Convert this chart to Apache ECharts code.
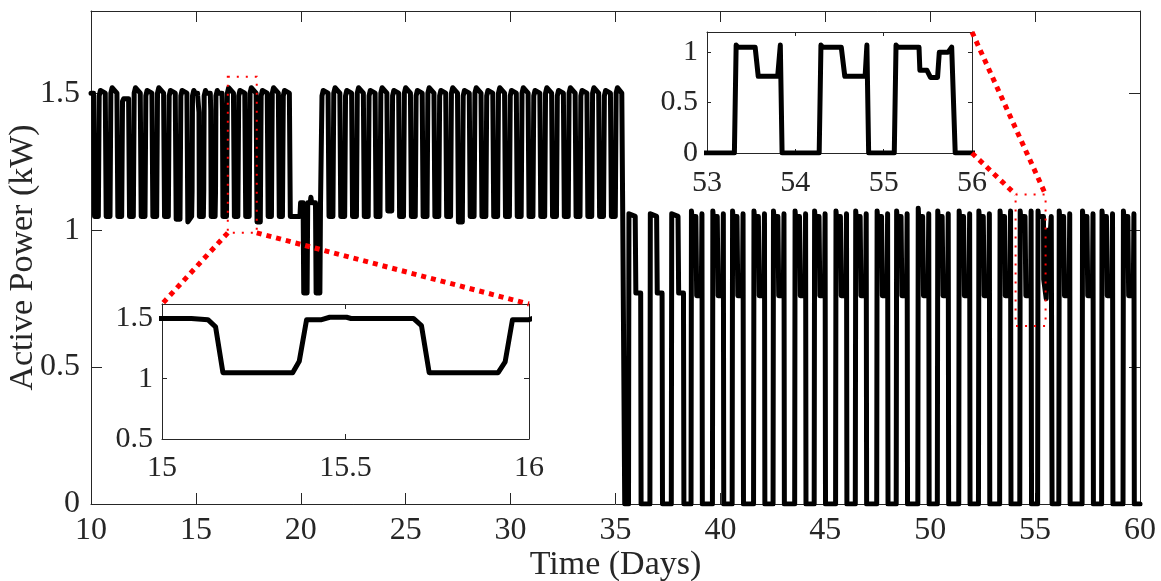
<!DOCTYPE html>
<html>
<head>
<meta charset="utf-8">
<script src="https://cdn.jsdelivr.net/npm/echarts@6/dist/echarts.min.js"></script>
<style>
  html, body { margin: 0; padding: 0; background: #fff; }
  #chart { width: 1161px; height: 581px; }
</style>
</head>
<body>
<div id="chart"></div>
<script>
// ---- Active power samples, [day, kW] ----
// Days 10–20: compressor cycling between ~1.05 and ~1.5 kW
const powerStage1 = [
  [10.000,1.50],[10.124,1.50],[10.169,1.05],
  [10.350,1.05],[10.390,1.49],[10.450,1.51],[10.680,1.50],[10.724,1.05],
  [10.906,1.05],[10.946,1.50],[11.006,1.52],[11.236,1.50],[11.280,1.05],
  [11.462,1.05],[11.502,1.47],[11.562,1.48],[11.792,1.48],[11.836,1.05],
  [12.018,1.05],[12.058,1.50],[12.118,1.52],[12.348,1.50],[12.392,1.05],
  [12.574,1.05],[12.614,1.49],[12.674,1.51],[12.904,1.50],[12.948,1.05],
  [13.130,1.05],[13.170,1.50],[13.230,1.52],[13.460,1.50],[13.504,1.05],
  [13.686,1.05],[13.726,1.49],[13.786,1.51],[14.016,1.50],[14.060,1.04],
  [14.242,1.04],[14.282,1.49],[14.342,1.51],[14.572,1.50],[14.616,1.03],
  [14.798,1.05],[14.818,1.14],[14.838,1.49],[14.880,1.49],[14.900,1.51],[14.950,1.51],[14.970,1.50],
  [15.080,1.50],[15.085,1.49],[15.125,1.49],[15.146,1.43],[15.166,1.05],
  [15.356,1.05],[15.374,1.145],[15.394,1.49],[15.435,1.49],[15.457,1.51],[15.503,1.51],[15.515,1.50],
  [15.685,1.50],[15.707,1.44],[15.728,1.05],
  [15.916,1.05],[15.935,1.14],[15.955,1.49],[16.000,1.49],[16.020,1.51],[16.060,1.51],[16.080,1.50],
  [16.245,1.50],[16.265,1.44],[16.289,1.05],
  [16.460,1.05],[16.500,1.50],[16.560,1.52],[16.790,1.50],[16.834,1.05],
  [17.000,1.05],[17.040,1.49],[17.100,1.51],[17.330,1.50],[17.374,1.05],
  [17.540,1.05],[17.580,1.50],[17.640,1.52],[17.870,1.50],[17.914,1.03],
  [18.070,1.03],[18.110,1.49],[18.170,1.51],[18.400,1.50],[18.444,1.05],
  [18.600,1.05],[18.640,1.50],[18.700,1.52],[18.930,1.50],[18.974,1.05],
  [19.125,1.05],[19.165,1.49],[19.225,1.51],[19.455,1.50],[19.500,1.05]
];

// Days 20–21: reduced output with two dips
const powerDip = [
  [19.960,1.05],[19.990,1.10],[20.110,1.10],[20.140,0.77],[20.300,0.77],[20.330,1.10],
  [20.450,1.10],[20.480,1.12],[20.520,1.10],[20.700,1.10],[20.730,0.77],[20.910,0.77],
  [20.940,1.10],[20.970,1.10]
];

// Days 21–35.4: cycling resumes until the mode change
const powerStage2 = [
  [21.010,1.49],[21.070,1.51],[21.300,1.50],[21.345,1.05],
  [21.531,1.05],[21.571,1.50],[21.631,1.52],[21.861,1.50],[21.905,1.05],
  [22.092,1.05],[22.132,1.49],[22.192,1.51],[22.422,1.50],[22.466,1.05],
  [22.652,1.05],[22.692,1.50],[22.752,1.52],[22.982,1.50],[23.026,1.05],
  [23.213,1.05],[23.253,1.49],[23.313,1.51],[23.543,1.50],[23.587,1.05],
  [23.774,1.05],[23.814,1.50],[23.874,1.52],[24.104,1.50],[24.148,1.07],
  [24.335,1.07],[24.375,1.49],[24.435,1.51],[24.665,1.50],[24.709,1.05],
  [24.896,1.05],[24.936,1.50],[24.996,1.52],[25.226,1.50],[25.270,1.05],
  [25.456,1.05],[25.496,1.49],[25.556,1.51],[25.786,1.50],[25.830,1.05],
  [26.017,1.05],[26.057,1.50],[26.117,1.52],[26.347,1.50],[26.391,1.05],
  [26.578,1.05],[26.618,1.49],[26.678,1.51],[26.908,1.50],[26.952,1.05],
  [27.139,1.05],[27.179,1.50],[27.239,1.52],[27.469,1.50],[27.513,1.03],
  [27.700,1.03],[27.740,1.49],[27.800,1.51],[28.030,1.50],[28.074,1.05],
  [28.260,1.05],[28.300,1.50],[28.360,1.52],[28.590,1.50],[28.634,1.05],
  [28.821,1.05],[28.861,1.49],[28.921,1.51],[29.151,1.50],[29.195,1.05],
  [29.382,1.05],[29.422,1.50],[29.482,1.52],[29.712,1.50],[29.756,1.05],
  [29.943,1.05],[29.983,1.49],[30.043,1.51],[30.273,1.50],[30.317,1.05],
  [30.504,1.05],[30.544,1.50],[30.604,1.52],[30.834,1.50],[30.878,1.05],
  [31.064,1.05],[31.104,1.49],[31.164,1.51],[31.394,1.50],[31.438,1.05],
  [31.625,1.05],[31.665,1.50],[31.725,1.52],[31.955,1.50],[31.999,1.05],
  [32.186,1.05],[32.226,1.49],[32.286,1.51],[32.516,1.50],[32.560,1.05],
  [32.747,1.05],[32.787,1.50],[32.847,1.52],[33.077,1.50],[33.121,1.05],
  [33.308,1.05],[33.348,1.49],[33.408,1.51],[33.638,1.50],[33.682,1.05],
  [33.868,1.05],[33.908,1.50],[33.968,1.52],[34.198,1.50],[34.242,1.05],
  [34.429,1.05],[34.469,1.49],[34.529,1.51],[34.759,1.50],[34.803,1.05],
  [34.990,1.05],[35.030,1.50],[35.090,1.52],[35.300,1.50],[35.345,1.05],
  [35.400,1.05],[35.440,0.00]
];

// Days 35.4–60: on/off cycling between 0 and ~1.05 kW with a 0.76 kW step
const powerStage3 = [
  [35.62,0],[35.64,1.06],[35.94,1.05],[35.97,0.77],[36.20,0.77],[36.22,0],
  [36.64,0],[36.66,1.06],[36.96,1.05],[36.99,0.77],[37.22,0.77],[37.24,0],
  [37.66,0],[37.68,1.06],[37.98,1.05],[38.01,0.77],[38.24,0.77],[38.26,0],
  [38.60,0],[38.62,1.07],[38.64,1.05],[38.83,1.05],[38.87,0.76],[39.09,0.76],[39.12,1.06],[39.14,0],
  [39.62,0],[39.64,1.07],[39.66,1.05],[39.85,1.05],[39.89,0.76],[40.11,0.76],[40.14,1.06],[40.16,0],
  [40.56,0],[40.58,1.07],[40.60,1.05],[40.79,1.05],[40.83,0.76],[41.05,0.76],[41.08,1.06],[41.10,0],
  [41.58,0],[41.60,1.07],[41.62,1.05],[41.81,1.05],[41.85,0.76],[42.07,0.76],[42.10,1.06],[42.12,0],
  [42.51,0],[42.53,1.07],[42.55,1.05],[42.74,1.05],[42.78,0.76],[43.00,0.76],[43.03,1.06],[43.05,0],
  [43.54,0],[43.56,1.07],[43.58,1.05],[43.77,1.05],[43.81,0.76],[44.03,0.76],[44.06,1.06],[44.08,0],
  [44.47,0],[44.49,1.07],[44.51,1.05],[44.70,1.05],[44.74,0.76],[44.96,0.76],[44.99,1.06],[45.01,0],
  [45.49,0],[45.51,1.07],[45.53,1.05],[45.72,1.05],[45.76,0.76],[45.98,0.76],[46.01,1.06],[46.03,0],
  [46.43,0],[46.45,1.07],[46.47,1.05],[46.66,1.05],[46.70,0.76],[46.92,0.76],[46.95,1.06],[46.97,0],
  [47.45,0],[47.47,1.07],[47.49,1.05],[47.68,1.05],[47.72,0.76],[47.94,0.76],[47.97,1.06],[47.99,0],
  [48.38,0],[48.40,1.07],[48.42,1.05],[48.61,1.05],[48.65,0.76],[48.87,0.76],[48.90,1.06],[48.92,0],
  [49.41,0],[49.43,1.08],[49.45,1.05],[49.64,1.05],[49.68,0.76],[49.90,0.76],[49.93,1.06],[49.95,0],
  [50.34,0],[50.36,1.07],[50.38,1.05],[50.57,1.05],[50.61,0.76],[50.83,0.76],[50.86,1.06],[50.88,0],
  [51.36,0],[51.38,1.07],[51.40,1.05],[51.59,1.05],[51.63,0.76],[51.85,0.76],[51.88,1.06],[51.90,0],
  [52.30,0],[52.32,1.07],[52.34,1.05],[52.53,1.05],[52.57,0.76],[52.79,0.76],[52.82,1.06],[52.84,0],
  [53.31,0],[53.33,1.07],[53.35,1.05],[53.545,1.05],[53.58,0.76],[53.80,0.76],[53.83,1.07],[53.85,0],
  [54.27,0],[54.29,1.07],[54.31,1.05],[54.52,1.05],[54.56,0.76],[54.79,0.76],[54.81,1.07],[54.83,0],
  [55.12,0],[55.14,1.07],[55.16,1.05],[55.40,1.05],[55.41,0.82],[55.49,0.82],[55.53,0.75],[55.61,0.75],
  [55.63,1.00],[55.73,1.00],[55.77,1.05],[55.79,1.05],[55.81,0],
  [56.13,0],[56.15,1.07],[56.17,1.05],[56.36,1.05],[56.40,0.76],[56.62,0.76],[56.65,1.06],[56.67,0],
  [57.24,0],[57.26,1.07],[57.28,1.05],[57.47,1.05],[57.51,0.76],[57.73,0.76],[57.76,1.06],[57.78,0],
  [58.17,0],[58.19,1.07],[58.21,1.05],[58.40,1.05],[58.44,0.76],[58.66,0.76],[58.69,1.06],[58.71,0],
  [59.19,0],[59.21,1.07],[59.23,1.05],[59.42,1.05],[59.46,0.76],[59.68,0.76],[59.71,1.06],[59.73,0],
  [60.00,0]
];

// ---- Tick values ----
const mainXTicks = [10, 15, 20, 25, 30, 35, 40, 45, 50, 55, 60];
const mainYTicks = [0, 0.5, 1, 1.5];
const insetAXTicks = [15, 15.5, 16];
const insetAYTicks = [0.5, 1, 1.5];
const insetBXTicks = [53, 54, 55, 56];
const insetBYTicks = [0, 0.5, 1];

// ---- Magnified windows on the main axes: [xFrom, xTo, yFrom, yTo] ----
const windowA = [16.52, 17.90, 0.99, 1.56];
const windowB = [54.07, 55.50, 0.65, 1.13];

const power = powerStage1.concat(powerDip, powerStage2, powerStage3);

const FONT = '"Liberation Serif", "Times New Roman", serif';
const AXIS_COLOR = '#262626';

function boxAxes(gridIndex, xRange, yRange, xTicks, yTicks, tickLen, fontSize, xMargin, yMargin, z, names) {
  const lineStyle = { color: AXIS_COLOR, width: 1 };
  const label = (values, margin) => ({
    show: true, customValues: values, fontFamily: FONT, fontSize: fontSize,
    color: AXIS_COLOR, margin: margin
  });
  const tick = (values) => ({
    show: true, inside: true, length: tickLen, customValues: values, lineStyle: lineStyle
  });
  const common = {
    type: 'value', gridIndex: gridIndex, z: z,
    axisLine: { show: true, onZero: false, lineStyle: lineStyle },
    splitLine: { show: false }
  };
  const xs = [
    Object.assign({}, common, { position: 'bottom', min: xRange[0], max: xRange[1],
      axisTick: tick(xTicks), axisLabel: label(xTicks, xMargin) }),
    Object.assign({}, common, { position: 'top', min: xRange[0], max: xRange[1],
      axisTick: tick(xTicks), axisLabel: { show: false } })
  ];
  const ys = [
    Object.assign({}, common, { position: 'left', min: yRange[0], max: yRange[1],
      axisTick: tick(yTicks), axisLabel: label(yTicks, yMargin) }),
    Object.assign({}, common, { position: 'right', min: yRange[0], max: yRange[1],
      axisTick: tick(yTicks), axisLabel: { show: false } })
  ];
  if (names) {
    const nameStyle = { fontFamily: FONT, fontSize: 34, color: AXIS_COLOR };
    Object.assign(xs[0], { name: names[0], nameLocation: 'middle', nameGap: 44,
      nameMoveOverlap: false, nameTextStyle: nameStyle });
    Object.assign(ys[0], { name: names[1], nameLocation: 'middle', nameGap: 51, nameRotate: 90,
      nameMoveOverlap: false, nameTextStyle: nameStyle });
  }
  return { xs: xs, ys: ys };
}

const mainAxes = boxAxes(0, [10, 60], [0, 1.8], mainXTicks, mainYTicks, 11, 32, 11, 11, 1,
  ['Time (Days)', 'Active Power (kW)']);
const insetAAxes = boxAxes(1, [15, 16], [0.5, 1.62], insetAXTicks, insetAYTicks, 5, 30, 14, 9, 11);
const insetBAxes = boxAxes(2, [53, 56], [0, 1.2], insetBXTicks, insetBYTicks, 4, 30, 15, 9, 11);

const lineSeries = (xi, yi, width, z) => ({
  type: 'line', xAxisIndex: xi, yAxisIndex: yi, data: power,
  showSymbol: false, symbol: 'none', z: z, animation: false,
  lineStyle: { color: '#000', width: width, cap: 'round', join: 'round' }
});

const chart = echarts.init(document.getElementById('chart'), null, { renderer: 'canvas' });
chart.setOption({
  animation: false,
  backgroundColor: '#fff',
  grid: [
    { left: 91, top: 11, width: 1049, height: 493, outerBoundsMode: 'none', containLabel: false },
    { left: 162, top: 304, width: 367, height: 135, outerBoundsMode: 'none', containLabel: false,
      show: true, backgroundColor: '#fff', borderWidth: 0, z: 10 },
    { left: 707, top: 32, width: 265, height: 121, outerBoundsMode: 'none', containLabel: false,
      show: true, backgroundColor: '#fff', borderWidth: 0, z: 10 }
  ],
  xAxis: mainAxes.xs.concat(insetAAxes.xs, insetBAxes.xs),
  yAxis: mainAxes.ys.concat(insetAAxes.ys, insetBAxes.ys),
  series: [
    lineSeries(0, 0, 5, 2),
    lineSeries(2, 2, 5, 12),
    lineSeries(4, 4, 5, 12)
  ]
});

// Dotted zoom windows and the leader lines joining them to their insets
function px(xi, yi, pt) {
  return chart.convertToPixel({ xAxisIndex: xi, yAxisIndex: yi }, pt);
}
function windowRect(w) {
  const a = px(0, 0, [w[0], w[3]]);
  const b = px(0, 0, [w[1], w[2]]);
  return {
    type: 'rect', z: 100, silent: true,
    shape: { x: a[0], y: a[1], width: b[0] - a[0], height: b[1] - a[1] },
    style: { fill: null, stroke: '#ff0000', lineWidth: 2, lineDash: [2, 7] }
  };
}
function leader(p, q) {
  return {
    type: 'line', z: 100, silent: true,
    shape: { x1: p[0], y1: p[1], x2: q[0], y2: q[1] },
    style: { stroke: '#ff0000', lineWidth: 5, lineDash: [5, 5], lineCap: 'butt' }
  };
}
chart.setOption({
  graphic: [
    windowRect(windowA),
    windowRect(windowB),
    leader(px(0, 0, [windowA[0], windowA[2]]), px(2, 2, [insetAXTicks[0], 1.62])),
    leader(px(0, 0, [windowA[1], windowA[2]]), px(2, 2, [16, 1.62])),
    leader(px(4, 4, [56, 0]), px(0, 0, [windowB[0], windowB[3]])),
    leader(px(4, 4, [56, 1.2]), px(0, 0, [windowB[1], windowB[3]]))
  ]
});
</script>
</body>
</html>
